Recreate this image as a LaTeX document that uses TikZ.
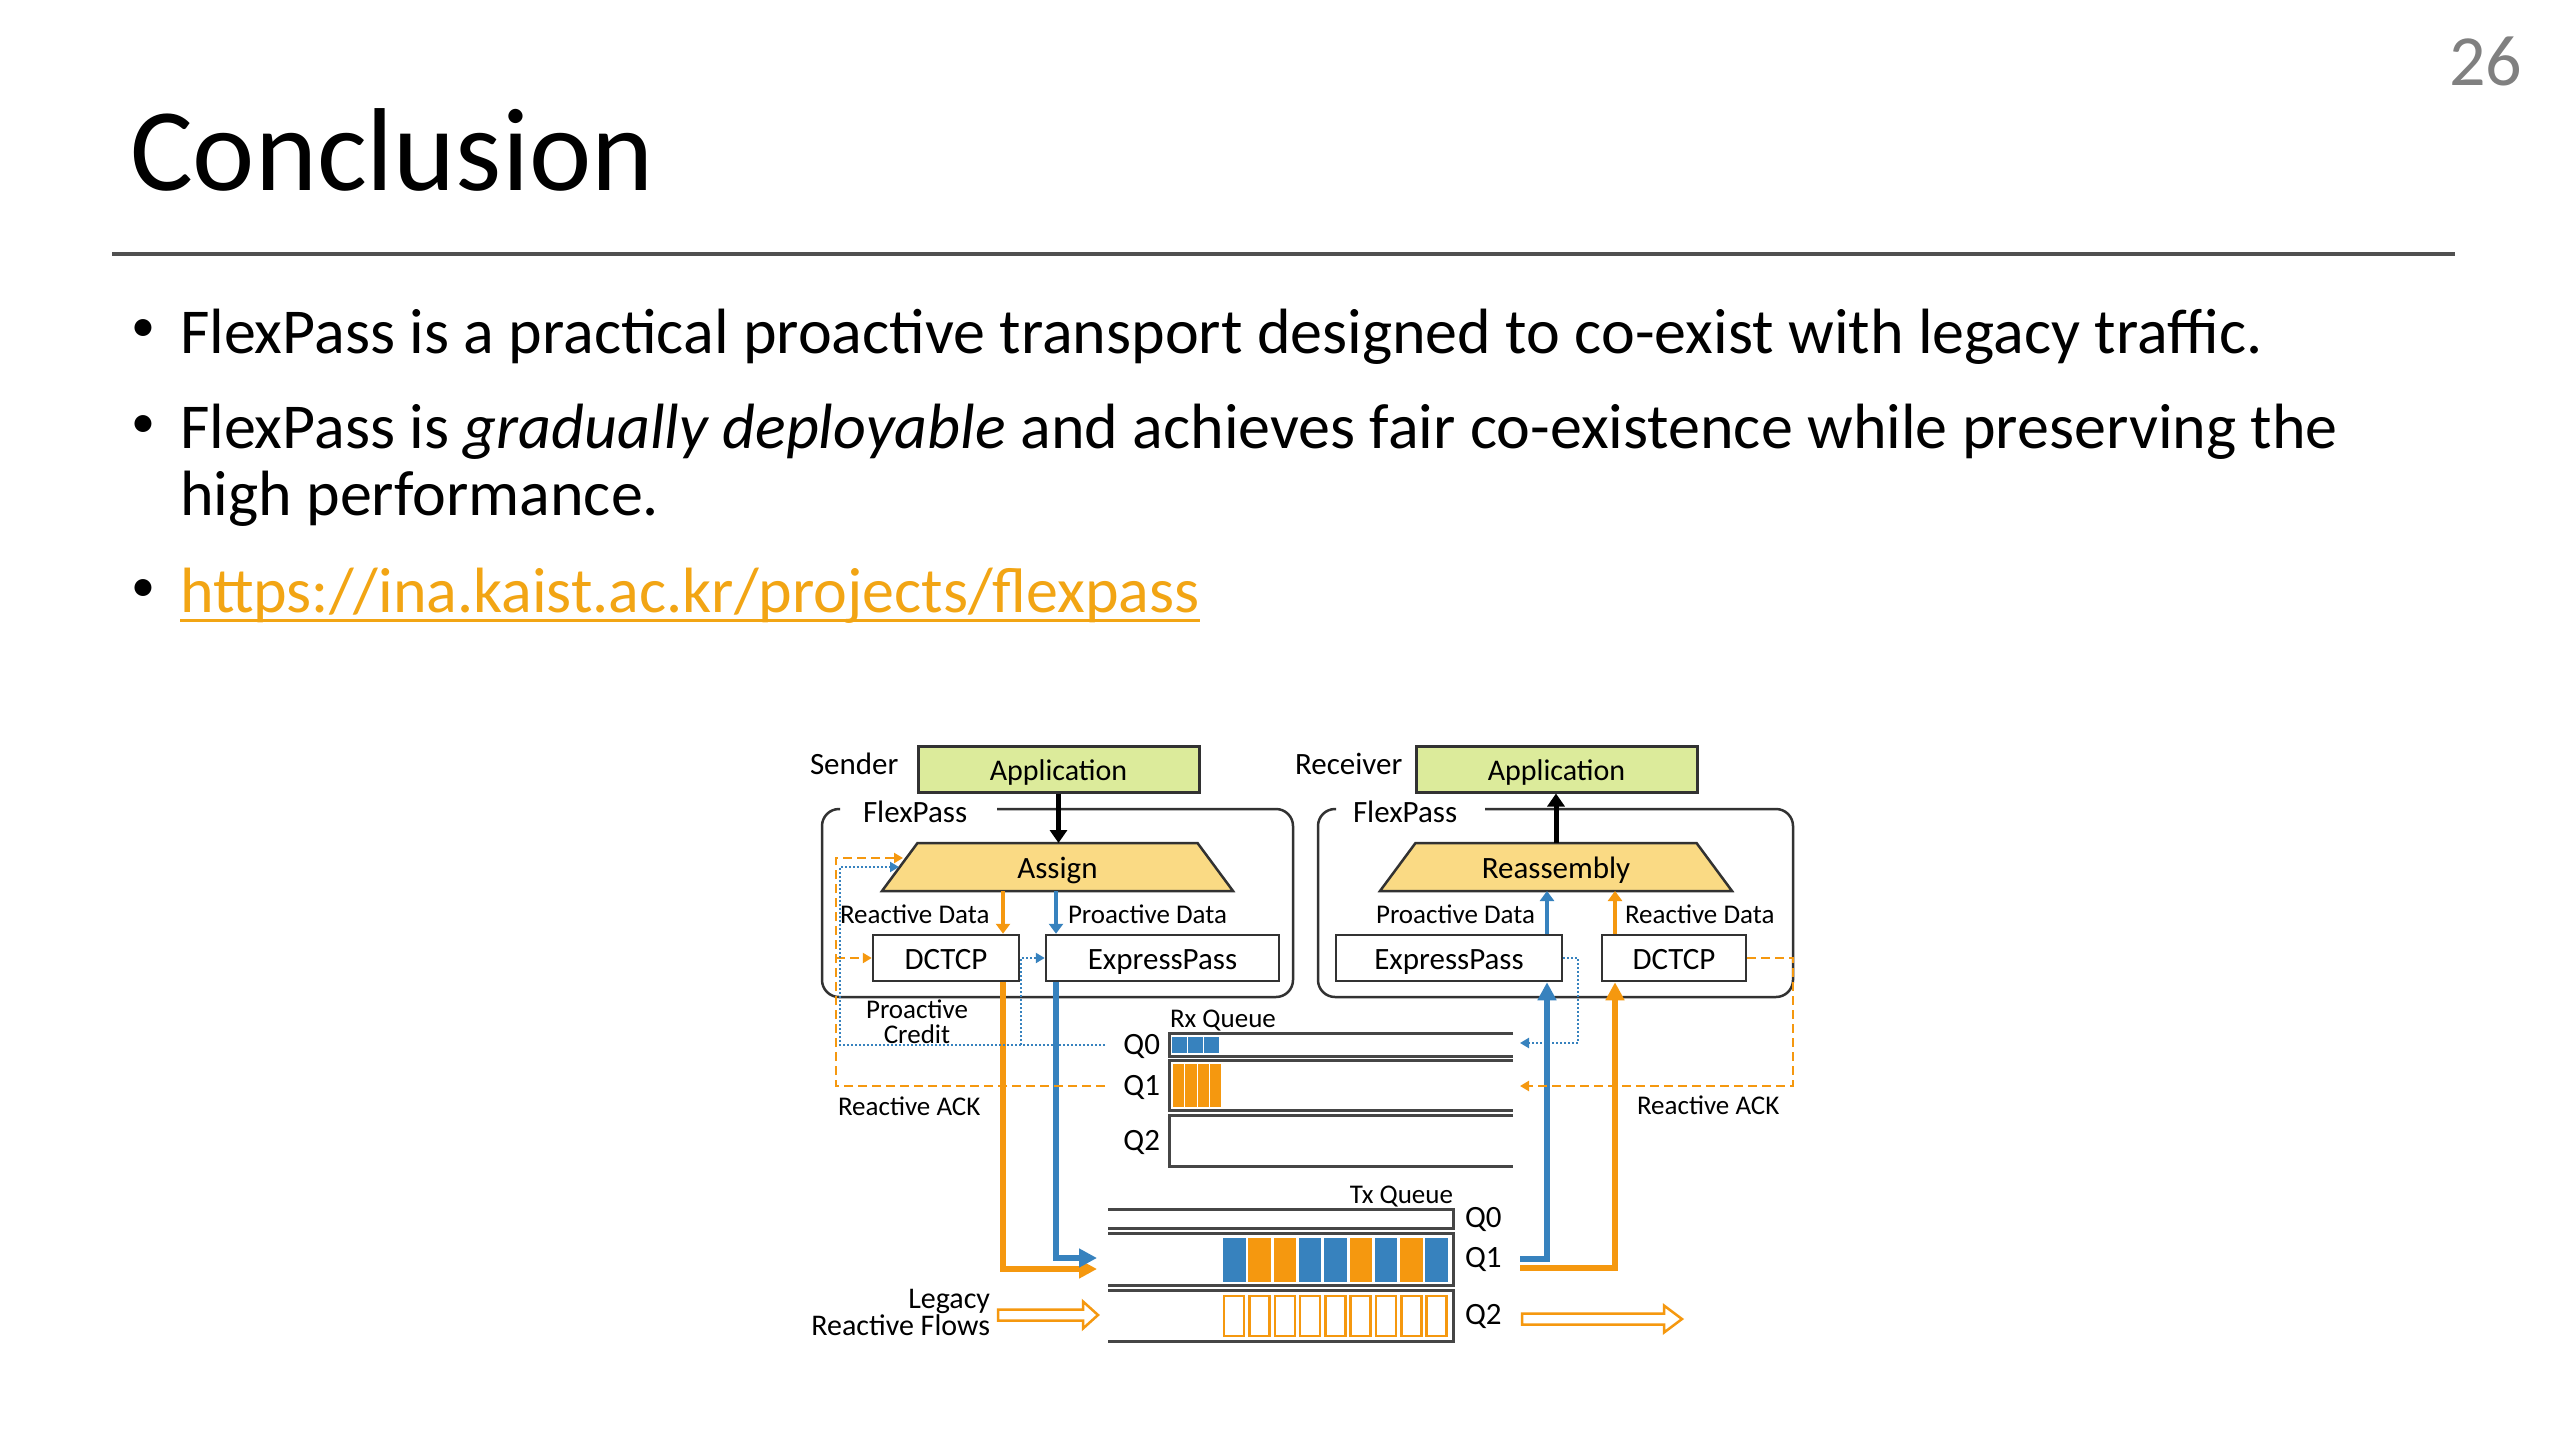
\documentclass[tikz,border=0pt]{standalone}
\usepackage{fontspec}
\setmainfont{Carlito}
\usetikzlibrary{arrows.meta,calc}
\definecolor{fpblue}{RGB}{55,130,190}
\definecolor{fporange}{RGB}{245,152,15}
\definecolor{appgreen}{RGB}{220,235,155}
\definecolor{trapyellow}{RGB}{250,218,132}
\definecolor{edgegray}{RGB}{50,50,50}
\definecolor{qgray}{RGB}{70,70,70}
\definecolor{urlorange}{RGB}{242,165,20}
\definecolor{pagegray}{RGB}{128,128,128}
\definecolor{rulegray}{RGB}{80,80,80}
\tikzset{
  txt/.style={inner sep=0pt, outer sep=0pt},
  body/.style={txt, font=\fontsize{64}{76}\selectfont},
  bulletdot/.style={txt, font=\fontsize{48}{58}\selectfont},
  dbig/.style={txt, font=\fontsize{31}{37}\selectfont},
  dsmall/.style={txt, font=\fontsize{27}{25}\selectfont},
  boxtext/.style={text height=26pt, text depth=4pt},
  appbox/.style={draw=edgegray, line width=3pt, fill=appgreen, minimum width=281pt, minimum height=46pt, inner sep=0pt, boxtext, font=\fontsize{30}{36}\selectfont},
  protobox/.style={draw=edgegray, line width=2.5pt, fill=white, minimum height=46pt, inner sep=0pt, boxtext, font=\fontsize{31}{37}\selectfont},
  trapgeo/.style={minimum height=48pt, inner sep=0pt, outer sep=0pt},
  trapfill/.style={draw=edgegray, line width=2.5pt, fill=trapyellow, line join=miter},
  fpbox/.style={draw=edgegray, line width=2.5pt, rounded corners=17pt},
  blackarrow/.style={line width=5pt, black, -{Triangle[length=13pt,width=17pt]}},
  othin/.style={line width=4pt, fporange, -{Triangle[length=10pt,width=14pt]}},
  bthin/.style={line width=4pt, fpblue, -{Triangle[length=10pt,width=14pt]}},
  othick/.style={line width=6pt, fporange, -{Triangle[length=18pt,width=18pt]}},
  bthick/.style={line width=6pt, fpblue, -{Triangle[length=18pt,width=18pt]}},
  odash/.style={line width=2.5pt, fporange, dash pattern=on 9pt off 5pt, -{Triangle[length=9pt,width=10pt]}},
  bdot/.style={line width=2.2pt, fpblue, dash pattern=on 2pt off 2pt, -{Triangle[length=9pt,width=10pt]}},
  qline/.style={line width=3pt, qgray, line join=miter},
  hollow/.style={draw=fporange, line width=2.5pt, fill=white, line join=miter},
}
\begin{document}
\begin{tikzpicture}[x=1pt,y=-1pt]
\useasboundingbox (0,0) rectangle (2560,1440);
\fill[white] (0,0) rectangle (2560,1440);

% ---------- slide text ----------
\node[txt, anchor=base east, text=pagegray, font=\fontsize{72}{80}\selectfont] (pnum) at (2522,85) {26};
\node[txt, anchor=base west, font=\fontsize{118}{130}\selectfont] (title) at (130,190) {Conclusion};
\coordinate (ruleL) at (112,254);
\coordinate (ruleR) at (2455,254);
\draw[rulegray, line width=3.5pt] (ruleL) -- (ruleR);

\node[bulletdot] (dot1) at (143,331) {•};
\node[body, anchor=base west] (b1) at (180,353) {FlexPass is a practical proactive transport designed to co-exist with legacy traffic.};
\node[bulletdot] (dot2) at (143,427) {•};
\node[body, anchor=base west] (b2) at (180,448) {FlexPass is \textit{gradually deployable} and achieves fair co-existence while preserving the};
\node[body, anchor=base west] (b2b) at (180,515) {high performance.};
\node[bulletdot] (dot3) at (143,591) {•};
\node[body, anchor=base west, text=urlorange] (url) at (180,612) {https://ina.kaist.ac.kr/projects/flexpass};
\draw[urlorange, line width=3pt] ($(url.base west)+(0,8)$) -- ($(url.base east)+(0,8)$);

% ---------- column coordinates ----------
\coordinate (sox) at (1003,0);
\coordinate (sbx) at (1056,0);
\coordinate (rbx) at (1547,0);
\coordinate (rox) at (1615,0);
\coordinate (sdl) at (836,0);
\coordinate (sbl) at (840,0);
\coordinate (sbv) at (1021,0);
\coordinate (rdl) at (1793,0);
\coordinate (rbl) at (1578,0);
\coordinate (rxq0in) at (1105,1045);
\coordinate (rxq1in) at (1105,1086);
\coordinate (rxq0out) at (1520,1043);
\coordinate (rxq1out) at (1520,1086);
\coordinate (sack1) at (903,858);
\coordinate (sack2) at (899,867);
\coordinate (txo) at (1097,1269);
\coordinate (txb) at (1097,1258);
\coordinate (rxo) at (1520,1268);
\coordinate (rxb) at (1520,1259);

% ---------- sender ----------
\node[dbig, anchor=base west] (senderlbl) at (810,774) {Sender};
\node[appbox] (sapp) at (1058.5,769) {Application};
\draw[fpbox] (997,809) -- (1293,809) -- (1293,997) -- (822,997) -- (822,809) -- (840,809);
\node[dbig, anchor=base west] (sfp) at (863,822) {FlexPass};
\node[trapgeo, minimum width=351pt] (assign) at (1057.5,867) {};
\draw[trapfill] (assign.south west) -- (assign.south east) -- ($(assign.north east)+(-35.5,0)$) -- ($(assign.north west)+(35.5,0)$) -- cycle;
\node[dbig, boxtext] (assigntxt) at (assign.center) {Assign};
\node[protobox, minimum width=146pt] (dctcps) at (946,958) {DCTCP};
\node[protobox, minimum width=233pt] (exps) at (1162.5,958) {ExpressPass};
\node[dsmall, anchor=base west] (srd) at (840,923) {Reactive Data};
\node[dsmall, anchor=base west] (spd) at (1068,923) {Proactive Data};
\node[dsmall, align=center, font=\fontsize{27}{25}\selectfont] (pcred) at (917,1022) {Proactive\\Credit};
\node[dsmall, anchor=base west] (sack) at (838,1115) {Reactive ACK};
\node[txt, align=right, anchor=base east, font=\fontsize{30}{27}\selectfont] (legacy) at (990,1335) {Legacy\\Reactive Flows};

\draw[blackarrow] (sapp.south) -- (sapp.south |- assign.north);
\draw[othin] (sox |- assign.south) -- (sox |- dctcps.north);
\draw[bthin] (sbx |- assign.south) -- (sbx |- exps.north);
\draw[othick] (sox |- dctcps.south) -- (sox |- txo) -- (txo);
\draw[bthick] (sbx |- exps.south) -- (sbx |- txb) -- (txb);
\draw[odash] (rxq1in) -- (sdl |- rxq1in) -- (sdl |- sack1) -- (sack1);
\draw[odash] (sdl |- dctcps.west) -- (dctcps.west);
\draw[bdot] (rxq0in) -- (sbl |- rxq0in) -- (sbl |- sack2) -- (sack2);
\draw[bdot] (sbv |- rxq0in) -- (sbv |- exps.west) -- (exps.west);
\draw[hollow] (998,1309.5) -- (1083,1309.5) -- (1083,1301.5) -- (1098,1315) -- (1083,1328.5) -- (1083,1320.5) -- (998,1320.5) -- cycle;

% ---------- receiver ----------
\node[dbig, anchor=base west] (recvlbl) at (1295,774) {Receiver};
\node[appbox] (rapp) at (1556.5,769) {Application};
\draw[fpbox] (1485,809) -- (1793,809) -- (1793,997) -- (1318,997) -- (1318,809) -- (1336,809);
\node[dbig, anchor=base west] (rfp) at (1353,822) {FlexPass};
\node[trapgeo, minimum width=352pt] (reasm) at (1556,867) {};
\draw[trapfill] (reasm.south west) -- (reasm.south east) -- ($(reasm.north east)+(-35.5,0)$) -- ($(reasm.north west)+(35.5,0)$) -- cycle;
\node[dbig, boxtext] (reasmtxt) at (reasm.center) {Reassembly};
\node[protobox, minimum width=226pt] (expr) at (1449,958) {ExpressPass};
\node[protobox, minimum width=144pt] (dctcpr) at (1674,958) {DCTCP};
\node[dsmall, anchor=base east] (rpd) at (1535,923) {Proactive Data};
\node[dsmall, anchor=base west] (rrd) at (1625,923) {Reactive Data};
\node[dsmall, anchor=base west] (rack) at (1637,1114) {Reactive ACK};

\draw[blackarrow] (reasm.north) -- (reasm.north |- rapp.south);
\draw[bthin] (rbx |- expr.north) -- (rbx |- reasm.south);
\draw[othin] (rox |- dctcpr.north) -- (rox |- reasm.south);
\draw[bthick] (rxb) -- (rbx |- rxb) -- (rbx |- expr.south);
\draw[othick] (rxo) -- (rox |- rxo) -- (rox |- dctcpr.south);
\draw[odash] (dctcpr.east) -- (rdl |- dctcpr.east) -- (rdl |- rxq1out) -- (rxq1out);
\draw[bdot] (expr.east) -- (rbl |- expr.east) -- (rbl |- rxq0out) -- (rxq0out);
\draw[hollow] (1522,1313.5) -- (1664,1313.5) -- (1664,1305.5) -- (1682,1319) -- (1664,1332.5) -- (1664,1324.5) -- (1522,1324.5) -- cycle;

% ---------- Rx queue ----------
\node[dsmall, anchor=base west] (rxlbl) at (1170,1027) {Rx Queue};
\foreach \t/\b in {1033/1056, 1060/1110, 1115/1166}
  \draw[qline] (1513,\t) -- (1169,\t) -- (1169,\b) -- (1513,\b);
\foreach \i in {0,1,2}
  \fill[fpblue] (1172+\i*16,1037) rectangle ++(15,16);
\foreach \i in {0,1,2,3}
  \fill[fporange] (1173+\i*12.3,1064) rectangle ++(11.3,43);
\node[dbig, anchor=east] (rq0) at (1160,1046) {Q0};
\node[dbig, anchor=east] (rq1) at (1160,1087) {Q1};
\node[dbig, anchor=east] (rq2) at (1160,1142) {Q2};

% ---------- Tx queue ----------
\node[dsmall, anchor=base east] (txlbl) at (1453,1203) {Tx Queue};
\foreach \t/\b in {1209/1228, 1233/1285, 1290/1341}
  \draw[qline] (1108,\t) -- (1453,\t) -- (1453,\b) -- (1108,\b);
\foreach \c [count=\i from 0] in {fpblue,fporange,fporange,fpblue,fpblue,fporange,fpblue,fporange,fpblue}
  \fill[\c] (1223+\i*25.3,1238) rectangle ++(22.5,44);
\foreach \i in {0,...,8}
  \draw[fporange, line width=2.5pt] (1224.2+\i*25.3,1296) rectangle ++(20,40);
\node[dbig, anchor=west] (tq0) at (1465,1219) {Q0};
\node[dbig, anchor=west] (tq1) at (1465,1259) {Q1};
\node[dbig, anchor=west] (tq2) at (1465,1316) {Q2};
\end{tikzpicture}
\end{document}
